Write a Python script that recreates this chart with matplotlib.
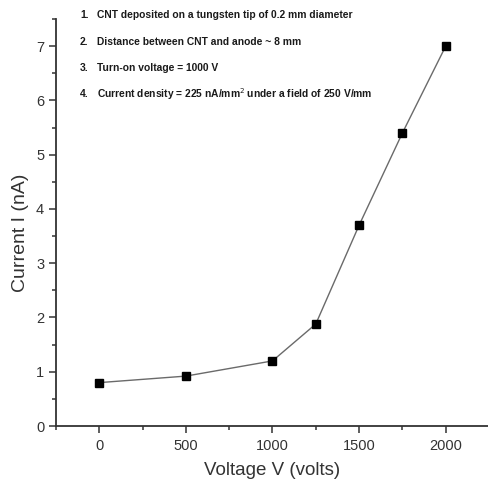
import matplotlib.pyplot as plt
import numpy as np
from matplotlib.ticker import MultipleLocator

# voltage (V) vs emission current (nA)
voltage = np.array([0, 500, 1000, 1250, 1500, 1750, 2000])
current = np.array([0.80, 0.92, 1.20, 1.88, 3.70, 5.40, 7.00])

notes = [
    "CNT deposited on a tungsten tip of 0.2 mm diameter",
    "Distance between CNT and anode ~ 8 mm",
    "Turn-on voltage = 1000 V",
    "Current density = 225 nA/mm$^{2}$ under a field of 250 V/mm",
]

plt.rcParams['font.family'] = ['Liberation Sans', 'DejaVu Sans']

fig = plt.figure(figsize=(4.89, 4.88), dpi=100)
ax = fig.add_axes([0.1145, 0.127, 0.8855, 0.834])

ax.plot(voltage, current, '-', color='#6a6a6a', lw=1.0, zorder=2)
ax.plot(voltage, current, 's', ms=6, mfc='black', mec='black', zorder=3)

ax.set_xlim(-250, 2250)
ax.set_ylim(0, 7.5)
ax.xaxis.set_major_locator(MultipleLocator(500))
ax.xaxis.set_minor_locator(MultipleLocator(250))
ax.yaxis.set_major_locator(MultipleLocator(1))
ax.yaxis.set_minor_locator(MultipleLocator(0.5))

for s in ['top', 'right']:
    ax.spines[s].set_visible(False)
for s in ['left', 'bottom']:
    ax.spines[s].set_linewidth(1.3)
    ax.spines[s].set_color('#333333')

ax.tick_params(which='major', length=5, width=1.1, labelsize=10.5, color='#333333', labelcolor='#333333')
ax.tick_params(which='minor', length=3, width=1.1, color='#333333')
ax.tick_params(axis='x', pad=4)

ax.set_xlabel('Voltage V (volts)', fontsize=13.5, color='#333333', labelpad=7)
ax.set_ylabel('Current I (nA)', fontsize=14, color='#333333')
ax.yaxis.set_label_coords(-0.062, 0.474)

# numbered notes in the upper left
ys = [15, 42, 68, 94]
for i, (txt, yp) in enumerate(zip(notes, ys)):
    fig.text(80 / 489, 1 - yp / 488, f"{i + 1}.", fontsize=7.4, fontweight='bold',
             va='center', ha='left', color='#1a1a1a')
    fig.text(97 / 489, 1 - yp / 488, txt, fontsize=7.4, fontweight='bold',
             va='center', ha='left', color='#1a1a1a')

fig.savefig('out.png', dpi=100)
